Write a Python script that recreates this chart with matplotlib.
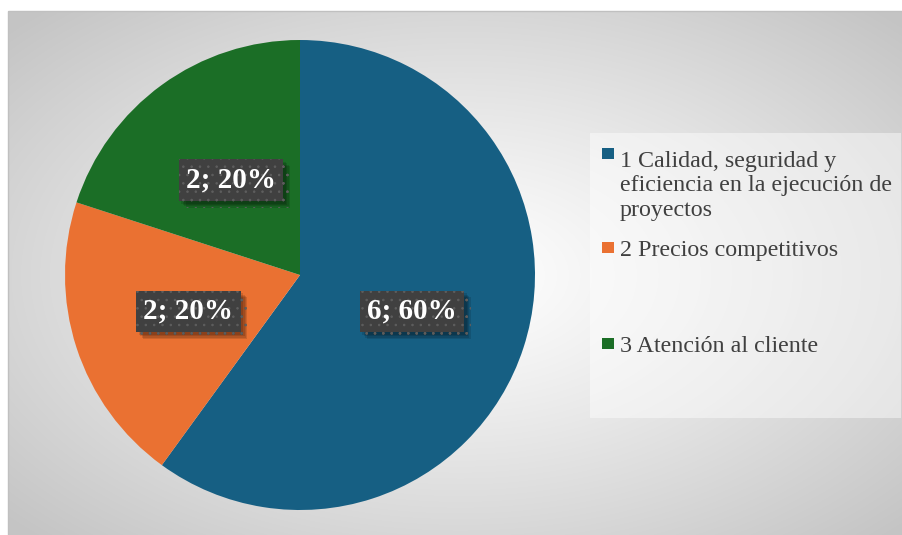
import numpy as np
import matplotlib.pyplot as plt
from matplotlib.patches import Rectangle
import matplotlib.patheffects as pe

# ----------------------------
# DATA
# ----------------------------
categories = ["1 Calidad, seguridad y\neficiencia en la ejecución de\nproyectos",
              "2 Precios competitivos",
              "3 Atención al cliente"]
counts = [6, 2, 2]
colors = ["#165f83", "#ea7132", "#1b6e26"]

plt.rcParams['font.family'] = ['Liberation Serif', 'DejaVu Serif']
plt.rcParams['hatch.linewidth'] = 0.6

W, H = 903, 535
fig = plt.figure(figsize=(W / 100, H / 100), dpi=100)
fig.patch.set_facecolor("white")

# ----------------------------
# BACKGROUND (radial gray gradient inside the chart frame)
# ----------------------------
bg = fig.add_axes([0, 0, 1, 1])
bg.set_xlim(0, W)
bg.set_ylim(H, 0)
bg.axis("off")
x0, y0 = 8, 11
xs = np.arange(x0, W)
ys = np.arange(y0, H)
X, Y = np.meshgrid(xs, ys)
cx, cy = 460, 275
d = np.sqrt(((X - cx) / 455) ** 2 + ((Y - cy) / 270) ** 2) / np.sqrt(2)
g = 1 - 0.23 * np.clip(d * 1.05, 0, 1) ** 1.15
img = np.dstack([g, g, g])
bg.imshow(img, extent=(x0, W, H, y0), aspect="auto", zorder=0)
bg.add_patch(Rectangle((x0, y0), W - x0 + 5, H - y0 + 5, fill=False,
                       edgecolor="#c0c0c0", linewidth=1, zorder=1))

# legend panel
bg.add_patch(Rectangle((590, 133), 311, 285, facecolor="white", alpha=0.45,
                       edgecolor="none", zorder=2))

# ----------------------------
# PIE
# ----------------------------
ax = fig.add_axes([65 / W, 25 / H, 470 / W, 470 / H])
total = sum(counts)


def label_fmt(pct):
    n = int(round(pct * total / 100))
    return f"{n}; {pct:.0f}%"


wedges, texts, autotexts = ax.pie(counts, colors=colors, startangle=90,
                                  counterclock=False, autopct=label_fmt,
                                  pctdistance=0.5,
                                  wedgeprops=dict(linewidth=0))
ax.set_xlim(-1, 1)
ax.set_ylim(-1, 1)
ax.set_aspect("equal")

# soft drop shadow built from a few faint offset copies
shadow = [pe.withSimplePatchShadow(offset=(o, -o), shadow_rgbFace="black", alpha=0.12)
          for o in (5, 4, 3, 2)]

for t in autotexts:
    t.set_color("white")
    t.set_fontsize(21)
    t.set_fontweight("bold")
    t.set_bbox(dict(boxstyle="square,pad=0.25", facecolor="#404040",
                    edgecolor="#5e5e5e", linewidth=0, hatch=".."))
    t.get_bbox_patch().set_path_effects(shadow + [pe.Normal()])

# ----------------------------
# LEGEND
# ----------------------------
line_h = 27
legend_base = [162, 256, 352]
for name, col, ly in zip(categories, colors, legend_base):
    bg.add_patch(Rectangle((602, ly - 14), 12, 11, facecolor=col,
                           edgecolor="none", zorder=3))
    # baseline alignment pins the last line, so shift multi-line entries down
    n_extra = name.count("\n")
    bg.text(620, ly + n_extra * line_h, name, fontsize=17.3, color="#404040",
            va="baseline", ha="left", linespacing=1.23, zorder=3)

fig.savefig("out.png", dpi=100)
